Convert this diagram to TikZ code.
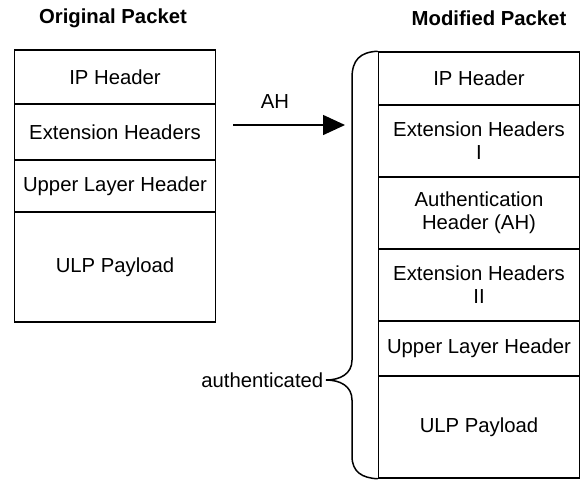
\documentclass[tikz,border=0pt]{standalone}
\usepackage{fontspec}
\setmainfont{Liberation Sans}
\usetikzlibrary{arrows.meta}

\begin{document}
\begin{tikzpicture}[x=1pt, y=-1pt, line width=1.5pt,
  cell/.style={rectangle, draw, minimum width=201pt, inner sep=0pt, align=center, font=\fontsize{20.3}{23}\selectfont},
  title/.style={font=\fontsize{20.3}{23}\selectfont\bfseries}]

\useasboundingbox (0,0) rectangle (583,480);

%% PAQUETE ORIGINAL
\node[title] (Orig) at (113,18) {Original Packet};

\node[cell, minimum height=54pt] at (115,77) (IP1) {IP Header};
\node[cell, minimum height=56pt] at (115,132) (Ext1) {Extension Headers};
\node[cell, minimum height=52pt] at (115,186) (ULH1) {Upper Layer Header};
\node[cell, minimum height=110pt] at (115,267) (ULP1) {ULP Payload};

% Flecha
\coordinate (AHs) at (233,125);
\coordinate (AHe) at (345,125);
\draw[-{Triangle[length=22pt, width=20pt]}] (AHs) -- (AHe);
\node[font=\fontsize{20.3}{23}\selectfont] at (275,102) (AHtxt) {AH};

%% PAQUETE MODIFICADO
\node[title] (Mod) at (489,18) {Modified Packet};

\node[cell, minimum height=53pt] at (479,78.5) (IP2) {IP Header};
\node[cell, minimum height=72pt] at (479,141) (ExtI2) {Extension Headers\\I};
\node[cell, minimum height=72pt] at (479,213) (AH2) {Authentication\\Header (AH)};
\node[cell, minimum height=72pt] at (479,285) (ExtII2) {Extension Headers\\II};
\node[cell, minimum height=55pt] at (479,348.5) (ULH2) {Upper Layer Header};
\node[cell, minimum height=102pt] at (479,427) (ULP2) {ULP Payload};

% Llave
\coordinate (tip) at (326,380);
\draw (IP2.north west) .. controls (360,52) and (352,60) .. (352,78)
  -- (352,360) .. controls (352,374) and (340,380) .. (tip)
  .. controls (340,380) and (352,386) .. (352,400)
  -- (352,456) .. controls (352,472) and (362,478) .. (ULP2.south west);

\node[anchor=east, inner sep=2pt, font=\fontsize{20.3}{23}\selectfont] at (tip) (Auth) {authenticated};

\end{tikzpicture}
\end{document}
